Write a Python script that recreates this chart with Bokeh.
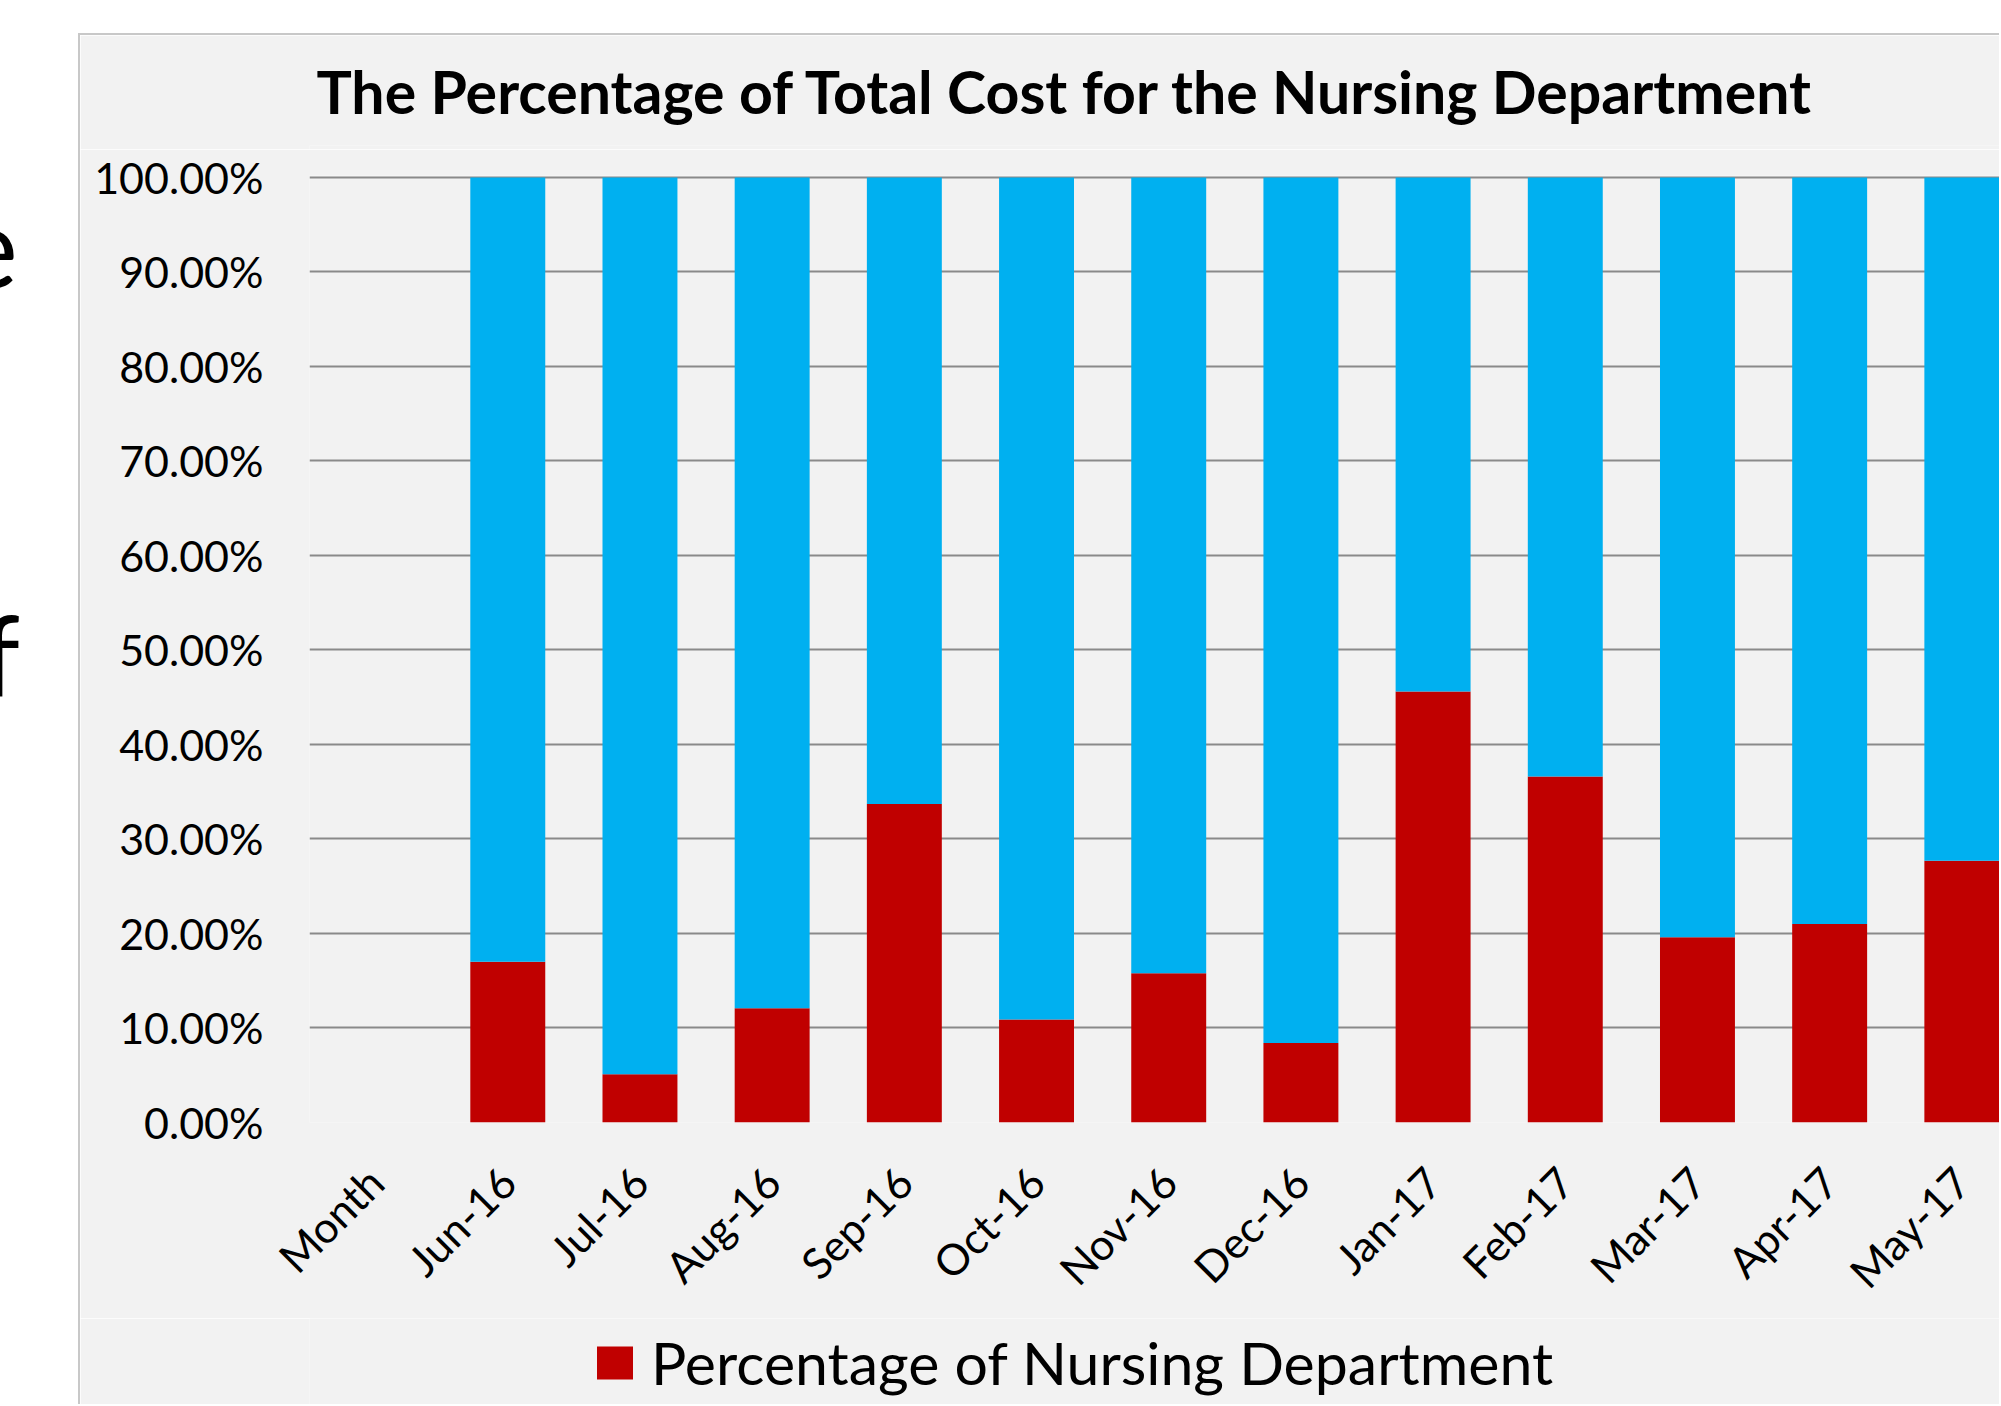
import math
from bokeh.plotting import figure
from bokeh.models import (Range1d, FixedTicker, NumeralTickFormatter, Legend, LegendItem,
                          ColumnDataSource, Div)
from bokeh.layouts import row, column
from bokeh.embed import file_html
from bokeh.resources import INLINE

# ---------------- data ----------------
months = ["Month", "Jun-16", "Jul-16", "Aug-16", "Sep-16", "Oct-16", "Nov-16",
          "Dec-16", "Jan-17", "Feb-17", "Mar-17", "Apr-17", "May-17"]
nursing_share = [0.0, 0.170, 0.051, 0.121, 0.337, 0.109, 0.158,
                 0.084, 0.456, 0.366, 0.196, 0.210, 0.277]
other_share = [0.0, 0.830, 0.949, 0.879, 0.663, 0.891, 0.842,
               0.916, 0.544, 0.634, 0.804, 0.790, 0.723]
y_ticks = [0.0, 0.1, 0.2, 0.3, 0.4, 0.5, 0.6, 0.7, 0.8, 0.9, 1.0]
title_text = "The Percentage of Total Cost for the Nursing Department"
legend_text = "Percentage of Nursing Department"
slide_fragments = ["e", "f"]

RED = "#C00000"
BLUE = "#00B0F0"
BG = "#F2F2F2"
GRID = "#8A8A8A"
EDGE = "#C8C8C8"
FONT = "Lato"
W = 1921

# ---------------- left white strip: fragments of the slide's text ----------------
frag_html = (
    '<div style="position:relative;width:78px;height:1406px;overflow:hidden;background:white;">'
    '<span style="position:absolute;right:60px;top:189px;font-family:Lato;font-size:112px;'
    'line-height:112px;color:black;">%s</span>'
    '<span style="position:absolute;right:58px;top:598px;font-family:Lato;font-size:112px;'
    'line-height:112px;color:black;">%s</span>'
    '</div>' % (slide_fragments[0], slide_fragments[1])
)
left = Div(text=frag_html, width=78, height=1406, margin=0,
           styles={"overflow": "hidden", "background": "white"})


def strip(height, styles, margin=0):
    f = figure(width=W, height=height, x_range=Range1d(0, 1), y_range=Range1d(0, 1),
               toolbar_location=None, output_backend="svg",
               x_axis_location=None, y_axis_location=None,
               min_border_left=229, min_border_right=0, min_border_top=0,
               min_border_bottom=0, styles=styles, margin=margin)
    f.background_fill_color = BG
    f.border_fill_color = BG
    f.outline_line_color = None
    f.grid.visible = False
    return f


# ---------------- title strip ----------------
head = strip(116, {"border-left": "2px solid " + EDGE, "border-top": "2px solid " + EDGE},
             margin=(33, 0, 0, 0))
head.title.text = title_text
head.title.align = "left"
head.title.offset = 7
head.title.text_font = FONT
head.title.text_font_style = "bold"
head.title.text_font_size = "59px"
head.title.text_color = "black"
head.title.standoff = 37

# ---------------- main chart ----------------
idx = list(range(len(months)))
src = ColumnDataSource(data=dict(x=idx, nursing=nursing_share, other=other_share))

p = figure(width=W, height=1169, x_range=Range1d(-0.5, 12.30), y_range=Range1d(0, 1.002),
           toolbar_location=None, output_backend="svg",
           min_border_left=229, min_border_right=0, min_border_top=26,
           min_border_bottom=196,
           styles={"border-left": "2px solid " + EDGE}, margin=0)
p.background_fill_color = BG
p.border_fill_color = BG
p.outline_line_color = None

r = p.vbar_stack(["nursing", "other"], x="x", width=0.567, source=src,
                 color=[RED, BLUE], line_color=None)

p.yaxis.ticker = FixedTicker(ticks=y_ticks)
p.yaxis.formatter = NumeralTickFormatter(format="0.00%")
p.yaxis.axis_line_color = None
p.yaxis.major_tick_line_color = None
p.yaxis.minor_tick_line_color = None
p.yaxis.major_tick_out = 0
p.yaxis.major_tick_in = 0
p.yaxis.minor_tick_out = 0
p.yaxis.major_label_standoff = 46
p.yaxis.major_label_text_font = FONT
p.yaxis.major_label_text_font_size = "43px"
p.yaxis.major_label_text_color = "black"

p.xaxis.ticker = FixedTicker(ticks=idx)
p.xaxis.major_label_overrides = {i: m for i, m in zip(idx, months)}
p.xaxis.major_label_orientation = math.pi / 4
p.xaxis.axis_line_color = None
p.xaxis.major_tick_line_color = None
p.xaxis.minor_tick_line_color = None
p.xaxis.major_tick_out = 0
p.xaxis.major_tick_in = 0
p.xaxis.minor_tick_out = 0
p.xaxis.major_label_standoff = 52
p.xaxis.major_label_text_font = FONT
p.xaxis.major_label_text_font_size = "43px"
p.xaxis.major_label_text_color = "black"

p.xgrid.grid_line_color = None
p.ygrid.ticker = FixedTicker(ticks=y_ticks)
p.ygrid.grid_line_color = GRID
p.ygrid.grid_line_width = 2

# ---------------- legend strip ----------------
leg = strip(86, {"border-left": "2px solid " + EDGE})
leg.x_range = Range1d(-0.5, 12.30)
# same nursing series, kept hidden here: it only supplies the legend swatch
swatch = leg.vbar(x="x", top="nursing", width=0.567, source=src, color=RED,
                  line_color=None, visible=False)
legend = Legend(items=[LegendItem(label=legend_text, renderers=[swatch])],
                location=(283, 6), orientation="horizontal",
                label_text_font=FONT, label_text_font_size="59px",
                label_text_color="black", glyph_width=45, glyph_height=41,
                label_standoff=14, padding=0, margin=0, spacing=0,
                inactive_fill_alpha=0.0,
                border_line_color=None, background_fill_alpha=0)
leg.add_layout(legend)

page = row(left, column(head, p, leg, spacing=0))
open("out.html", "w").write(file_html(page, INLINE))
